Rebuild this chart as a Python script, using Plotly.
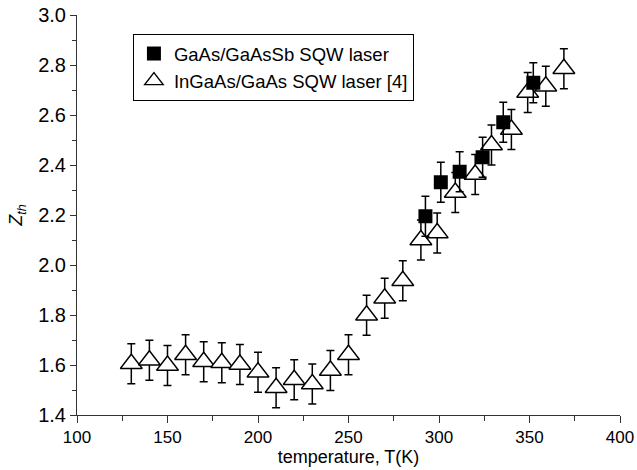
import plotly.graph_objects as go

# InGaAs/GaAs SQW laser [4] (open triangles)
tri_T = [130, 140, 150, 160, 170, 180, 190, 200, 210, 220, 230, 240, 250,
         260, 270, 280, 290, 299, 309, 320, 329, 340, 349, 359, 369]
tri_Z = [1.605, 1.619, 1.598, 1.641, 1.613, 1.609, 1.602, 1.571, 1.509, 1.541,
         1.524, 1.578, 1.641, 1.799, 1.867, 1.937, 2.10, 2.128, 2.29, 2.362,
         2.48, 2.542, 2.69, 2.715, 2.785]
tri_err = [0.08] * len(tri_T)

# GaAs/GaAsSb SQW laser (filled squares)
sq_T = [292.5, 301, 311.4, 324.1, 335.5, 352.1]
sq_Z = [2.195, 2.331, 2.373, 2.431, 2.571, 2.729]
sq_err = [0.08] * len(sq_T)

x_ticks = [100, 150, 200, 250, 300, 350, 400]
y_ticks = [1.4, 1.6, 1.8, 2.0, 2.2, 2.4, 2.6, 2.8, 3.0]

FONT = "Liberation Sans, Arial, Helvetica, sans-serif"

fig = go.Figure()
fig.add_trace(go.Scatter(
    x=tri_T, y=tri_Z, mode="markers", name="InGaAs/GaAs SQW laser [4]",
    legendrank=2,
    marker=dict(symbol="triangle-up", size=19, color="white",
                line=dict(color="black", width=1.4)),
    error_y=dict(type="data", array=tri_err, visible=True, color="black",
                 thickness=1.5, width=4),
))
fig.add_trace(go.Scatter(
    x=sq_T, y=sq_Z, mode="markers", name="GaAs/GaAsSb SQW laser",
    legendrank=1,
    marker=dict(symbol="square", size=14, color="black",
                line=dict(color="black", width=0)),
    error_y=dict(type="data", array=sq_err, visible=True, color="black",
                 thickness=1.5, width=4),
))

axis_common = dict(showgrid=False, zeroline=False, showline=True,
                   linecolor="#333", linewidth=1, ticks="outside",
                   tickcolor="#333", tickwidth=1, automargin=False)

fig.update_xaxes(range=[100, 400], tickvals=x_ticks, ticklen=7,
                 tickfont=dict(family=FONT, size=17, color="black"),
                 minor=dict(ticks="outside", ticklen=5, dtick=25, tick0=100,
                            tickcolor="#333"),
                 title=dict(text="temperature, T(K)", standoff=2,
                            font=dict(family=FONT, size=18, color="black")),
                 **axis_common)
fig.update_yaxes(range=[1.4, 3.0], tickvals=y_ticks, tickformat=".1f",
                 ticklen=6,
                 tickfont=dict(family=FONT, size=20, color="black"),
                 minor=dict(ticks="outside", ticklen=4, dtick=0.1, tick0=1.4,
                            tickcolor="#333"),
                 title=dict(text="<i>Z</i><sub><i>th</i></sub>", standoff=10,
                            font=dict(family=FONT, size=18, color="black")),
                 **axis_common)

fig.update_layout(
    width=637, height=470,
    margin=dict(l=77, r=17, t=15, b=55),
    plot_bgcolor="white", paper_bgcolor="white",
    font=dict(family=FONT, size=17, color="black"),
    legend=dict(x=0.103, y=0.9525, xanchor="left", yanchor="top",
                bordercolor="black", borderwidth=1, bgcolor="white",
                font=dict(family=FONT, size=18.5, color="black"),
                tracegroupgap=0),
    showlegend=True,
)

fig.write_html("out.html",
               config={"displayModeBar": False},
               post_script="document.body.style.margin='0';"
                           "document.body.style.padding='0';"
                           "document.body.style.overflow='hidden';")
